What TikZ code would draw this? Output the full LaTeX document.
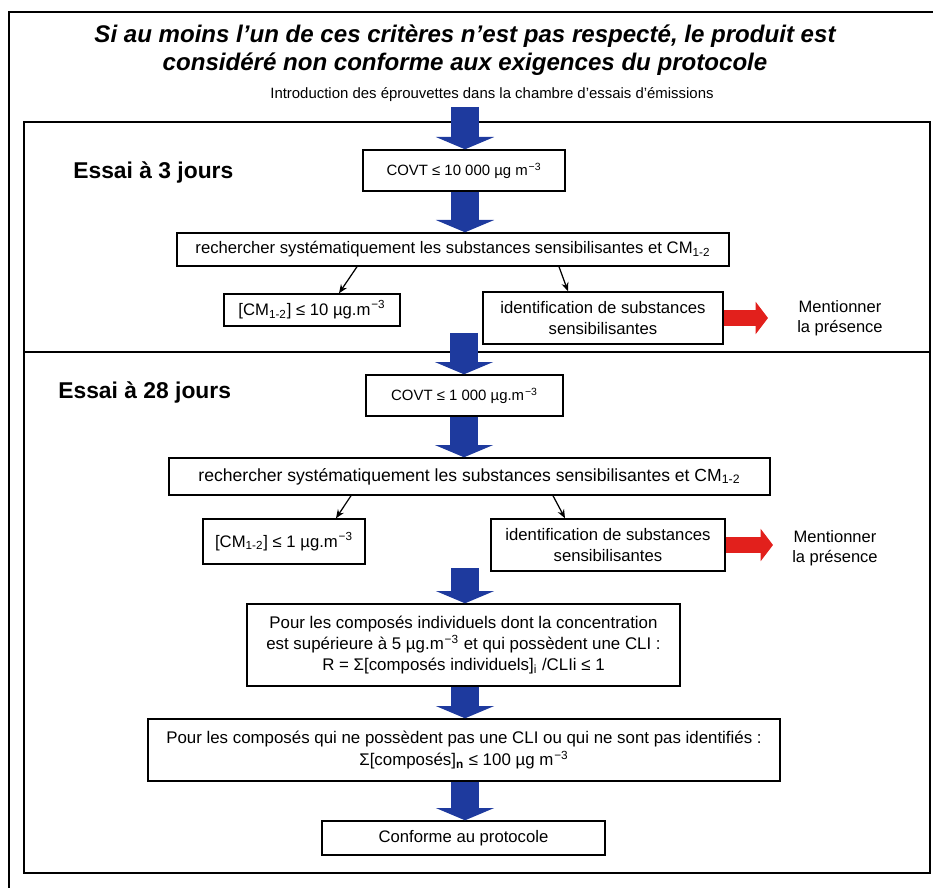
\documentclass[tikz,border=0pt]{standalone}
\usepackage{fontspec}
\setmainfont{Liberation Sans}
\usetikzlibrary{arrows.meta}

\definecolor{arrowblue}{RGB}{30,58,158}
\definecolor{arrowred}{RGB}{226,32,28}

\def\minus{\textsuperscript{\kern.5pt−3}}
\def\cmsub{CM\textsubscript{1-2}}

\tikzset{
  box/.style={draw, line width=0.8pt, align=center, inner sep=2pt,
    font=\fontsize{9.5}{12}\selectfont},
  smallfont/.style={font=\fontsize{8.5}{11}\selectfont},
  plaintext/.style={align=center, font=\fontsize{9.4}{11.5}\selectfont},
  essai/.style={anchor=west, inner sep=0pt, font=\fontsize{13}{15}\selectfont\bfseries},
  bigarrow/.style={arrowblue, line width=16pt, -{Triangle[width=33pt,length=7pt]}},
  redarrow/.style={arrowred, line width=9.5pt, -{Triangle[width=18pt,length=7pt]}},
  smallarrow/.style={line width=0.7pt, -{Stealth[length=5pt,width=4pt]}},
}

\begin{document}
\begin{tikzpicture}[x=0.02cm, y=-0.02cm]
  \useasboundingbox (0,0) rectangle (933,888);

  % frames
  \draw [line width=1.2pt] (9,888) -- (9,12) -- (933,12);
  \draw [line width=1.1pt] (24,122) rectangle (930,873);
  \draw [line width=1.1pt] (24,352) -- (930,352);

  % heading
  \node [align=center, font=\fontsize{13.7}{16}\selectfont\bfseries\itshape] (title) at (465,50)
    {Si au moins l’un de ces critères n'est pas respecté, le produit est\\
     considéré non conforme aux exigences du protocole};
  \node [plaintext, smallfont] (intro) at (492,95)
    {Introduction des éprouvettes dans la chambre d’essais d’émissions};

  % essai a 3 jours
  \node [essai] (essaia) at (73,172) {Essai à 3 jours};
  \node [box, smallfont, minimum width=4.04cm, minimum height=0.82cm] (covta) at (464,170.5)
    {COVT ≤ 10 000 µg m\minus};
  \node [box, minimum width=11.04cm, minimum height=0.66cm] (recha) at (453,249.5)
    {rechercher systématiquement les substances sensibilisantes et \cmsub};
  \node [box, minimum width=3.52cm, minimum height=0.64cm] (cma) at (312,310)
    {[\cmsub] ≤ 10 µg.m\minus};
  \node [box, minimum width=4.8cm, minimum height=1.04cm] (ida) at (603,318)
    {identification de substances\\sensibilisantes};
  \node [plaintext] (menta) at (840,318) {Mentionner\\la présence};

  % essai a 28 jours
  \node [essai] (essaib) at (58,392) {Essai à 28 jours};
  \node [box, smallfont, minimum width=3.94cm, minimum height=0.82cm] (covtb) at (464.5,395.5)
    {COVT ≤ 1 000 µg.m\minus};
  \node [box, font=\fontsize{10}{12}\selectfont, minimum width=12.02cm, minimum height=0.74cm] (rechb) at (469.5,476.5)
    {rechercher systématiquement les substances sensibilisantes et \cmsub};
  \node [box, minimum width=3.24cm, minimum height=0.9cm] (cmb) at (284,541.5)
    {[\cmsub] ≤ 1 µg.m\minus};
  \node [box, minimum width=4.68cm, minimum height=1.04cm] (idb) at (608,545)
    {identification de substances\\sensibilisantes};
  \node [plaintext] (mentb) at (835,548) {Mentionner\\la présence};

  \node [box, font=\fontsize{9.6}{12.2}\selectfont, minimum width=8.66cm, minimum height=1.64cm] (pour) at (463.5,645)
    {Pour les composés individuels dont la concentration\\
     est supérieure à 5 µg.m\minus{} et qui possèdent une CLI :\\
     R = Σ[composés individuels]\textsubscript{i} /CLIi ≤ 1};
  \node [box, font=\fontsize{9.6}{13}\selectfont, minimum width=12.64cm, minimum height=1.24cm] (sans) at (464,750)
    {Pour les composés qui ne possèdent pas une CLI ou qui ne sont pas identifiés :\\
     Σ[composés]\textsubscript{\bfseries n} ≤ 100 µg m\minus};
  \node [box, minimum width=5.66cm, minimum height=0.68cm] (conf) at (463.5,838)
    {Conforme au protocole};

  \coordinate (starta) at (465,107);
  \coordinate (startb) at (464,333);
  \coordinate (startc) at (465,568);
  \coordinate (enda) at (768,318);
  \coordinate (endb) at (773,545);

  % blue arrows
  \draw [bigarrow] (starta) -- (starta |- covta.north);
  \draw [bigarrow] (covta.south -| starta) -- (starta |- recha.north);
  \draw [bigarrow] (startb) -- (startb |- covtb.north);
  \draw [bigarrow] (covtb.south -| startb) -- (startb |- rechb.north);
  \draw [bigarrow] (startc) -- (startc |- pour.north);
  \draw [bigarrow] (pour.south -| startc) -- (startc |- sans.north);
  \draw [bigarrow] (sans.south -| startc) -- (startc |- conf.north);

  % small arrows
  \draw [smallarrow] ([xshift=-1.92cm]recha.south) -- ([xshift=0.54cm]cma.north);
  \draw [smallarrow] ([xshift=2.12cm]recha.south) -- ([xshift=-0.7cm]ida.north);
  \draw [smallarrow] ([xshift=-2.37cm]rechb.south) -- ([xshift=1.04cm]cmb.north);
  \draw [smallarrow] ([xshift=1.67cm]rechb.south) -- ([xshift=-0.86cm]idb.north);

  % red arrows
  \draw [redarrow] (ida.east) -- (enda);
  \draw [redarrow] (idb.east) -- (endb);
\end{tikzpicture}
\end{document}
